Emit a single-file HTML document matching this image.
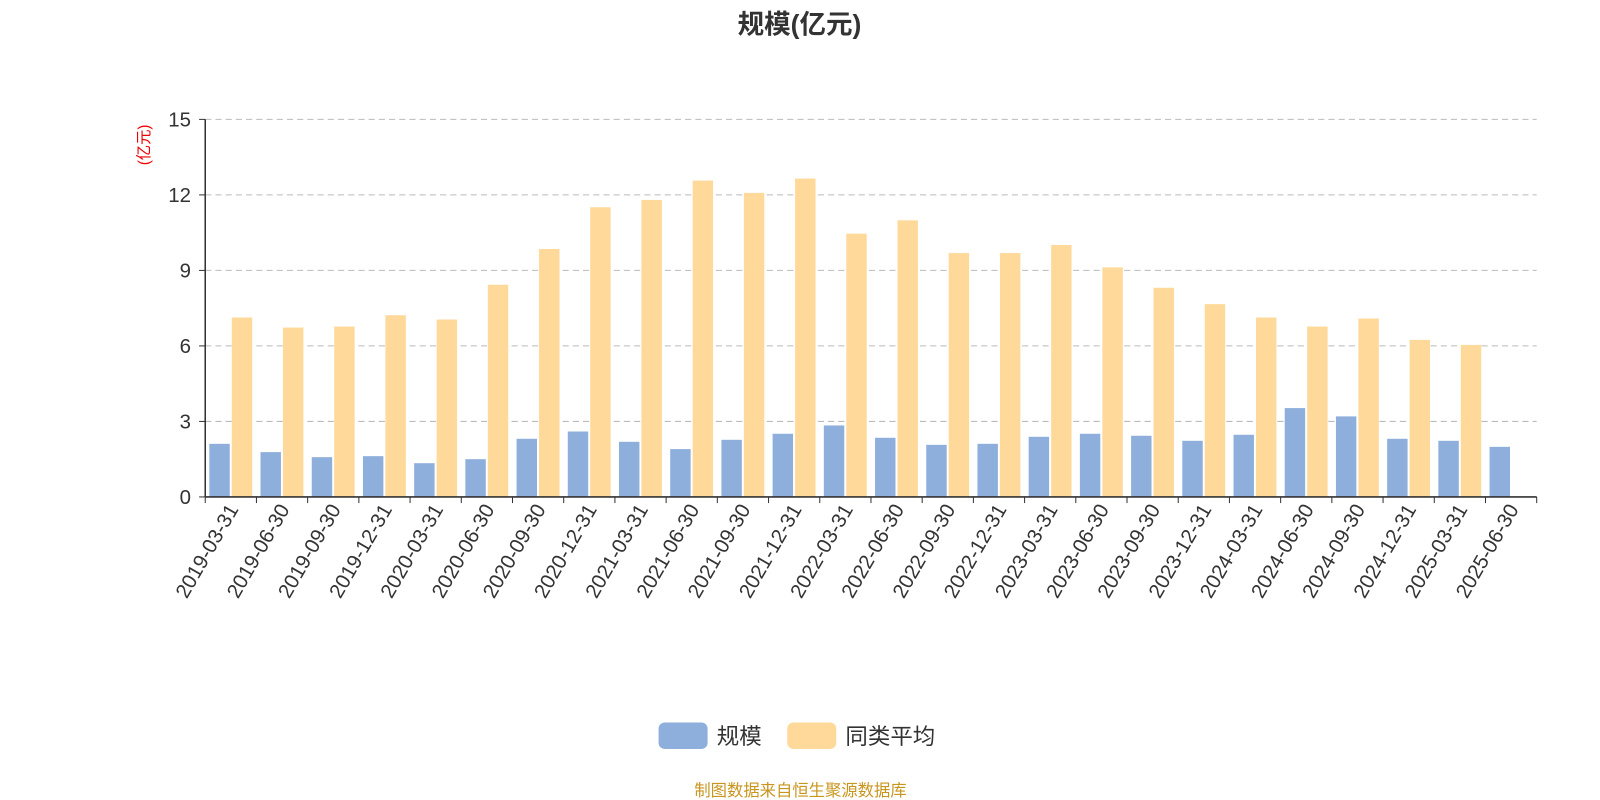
<!DOCTYPE html>
<html><head><meta charset="utf-8"><style>
body{margin:0;background:#fff;font-family:"Liberation Sans","Noto Sans CJK SC",sans-serif;}
svg{display:block}
</style></head><body>
<svg id="chart" width="1600" height="800" viewBox="0 0 1567 784" preserveAspectRatio="none" xmlns="http://www.w3.org/2000/svg" font-family="Liberation Sans, Noto Sans CJK SC, sans-serif">
<text x="783" y="33" text-anchor="middle" font-size="26" font-weight="bold" fill="#333">规模(亿元)</text>
<text transform="translate(146,142) rotate(-90)" text-anchor="middle" font-size="15" fill="#e00">(亿元)</text>
<g id="grid"></g><g id="bars"></g><g id="axes"></g>
<g>
<rect x="645" y="708" width="48" height="26" rx="6" fill="#8eaedb"/>
<text x="702" y="729" font-size="22" fill="#333">规模</text>
<rect x="771" y="708" width="48" height="26" rx="6" fill="#ffd99a"/>
<text x="828" y="729" font-size="22" fill="#333">同类平均</text>
</g>
<text x="784" y="780" text-anchor="middle" font-size="16" fill="#c8961e">制图数据来自恒生聚源数据库</text>
</svg>
<script>
const categories=["2019-03-31","2019-06-30","2019-09-30","2019-12-31","2020-03-31","2020-06-30","2020-09-30","2020-12-31","2021-03-31","2021-06-30","2021-09-30","2021-12-31","2022-03-31","2022-06-30","2022-09-30","2022-12-31","2023-03-31","2023-06-30","2023-09-30","2023-12-31","2024-03-31","2024-06-30","2024-09-30","2024-12-31","2025-03-31","2025-06-30"];
const scaleValues=[2.11,1.78,1.58,1.62,1.34,1.5,2.31,2.6,2.19,1.9,2.27,2.51,2.84,2.35,2.07,2.11,2.39,2.51,2.43,2.23,2.47,3.53,3.2,2.31,2.23,1.99];
const avgValues=[7.13,6.73,6.77,7.22,7.05,8.43,9.85,11.51,11.8,12.57,12.08,12.65,10.46,10.99,9.69,9.69,10.01,9.12,8.31,7.66,7.13,6.77,7.09,6.24,6.04,null];
const yTicks=[0,3,6,9,12,15];
const NS="http://www.w3.org/2000/svg";
const x0=201,x1=1505,yb=487,yt=117,ymax=15;
const slot=(x1-x0)/categories.length;
const y=v=>yb-(v/ymax)*(yb-yt);
function mk(tag,attrs,parent){const e=document.createElementNS(NS,tag);for(const k in attrs)e.setAttribute(k,attrs[k]);parent.appendChild(e);return e;}
const grid=document.getElementById('grid'),bars=document.getElementById('bars'),axes=document.getElementById('axes');
yTicks.forEach(t=>{
 if(t>0){const g=mk('line',{x1:x0,x2:x1,y1:y(t),y2:y(t),stroke:'#bbb','stroke-dasharray':'6,4'},grid);
 
 }
 const tx=mk('text',{x:x0-14,y:y(t)+7,'text-anchor':'end','font-size':20,fill:'#333'},axes);tx.textContent=t;
 
 
 mk('line',{x1:x0-6,x2:x0,y1:y(t),y2:y(t),stroke:'#333'},axes);
});
categories.forEach((c,i)=>{
 const sx=x0+i*slot;
 const b=mk('rect',{x:sx+4,y:y(scaleValues[i]),width:20,height:yb-y(scaleValues[i]),fill:'#8eaedb'},bars);
 
 
 if(avgValues[i]!=null){const o=mk('rect',{x:sx+26,y:y(avgValues[i]),width:20,height:yb-y(avgValues[i]),fill:'#ffd99a'},bars);
 
 }
 mk('line',{x1:sx,x2:sx,y1:yb,y2:yb+6,stroke:'#333'},axes);
 const cx=sx+slot/2;
 const l=mk('text',{transform:`translate(${cx+8},${yb+12}) rotate(-60)`,'text-anchor':'end','font-size':20,fill:'#333'},axes);l.textContent=c;
 
 
});
mk('line',{x1:x1,x2:x1,y1:yb,y2:yb+6,stroke:'#333'},axes);
mk('line',{x1:x0,x2:x1,y1:yb,y2:yb,stroke:'#333','stroke-width':1.5},axes);
mk('line',{x1:x0,x2:x0,y1:yt,y2:yb,stroke:'#333','stroke-width':1.5},axes);
</script>
</body></html>
